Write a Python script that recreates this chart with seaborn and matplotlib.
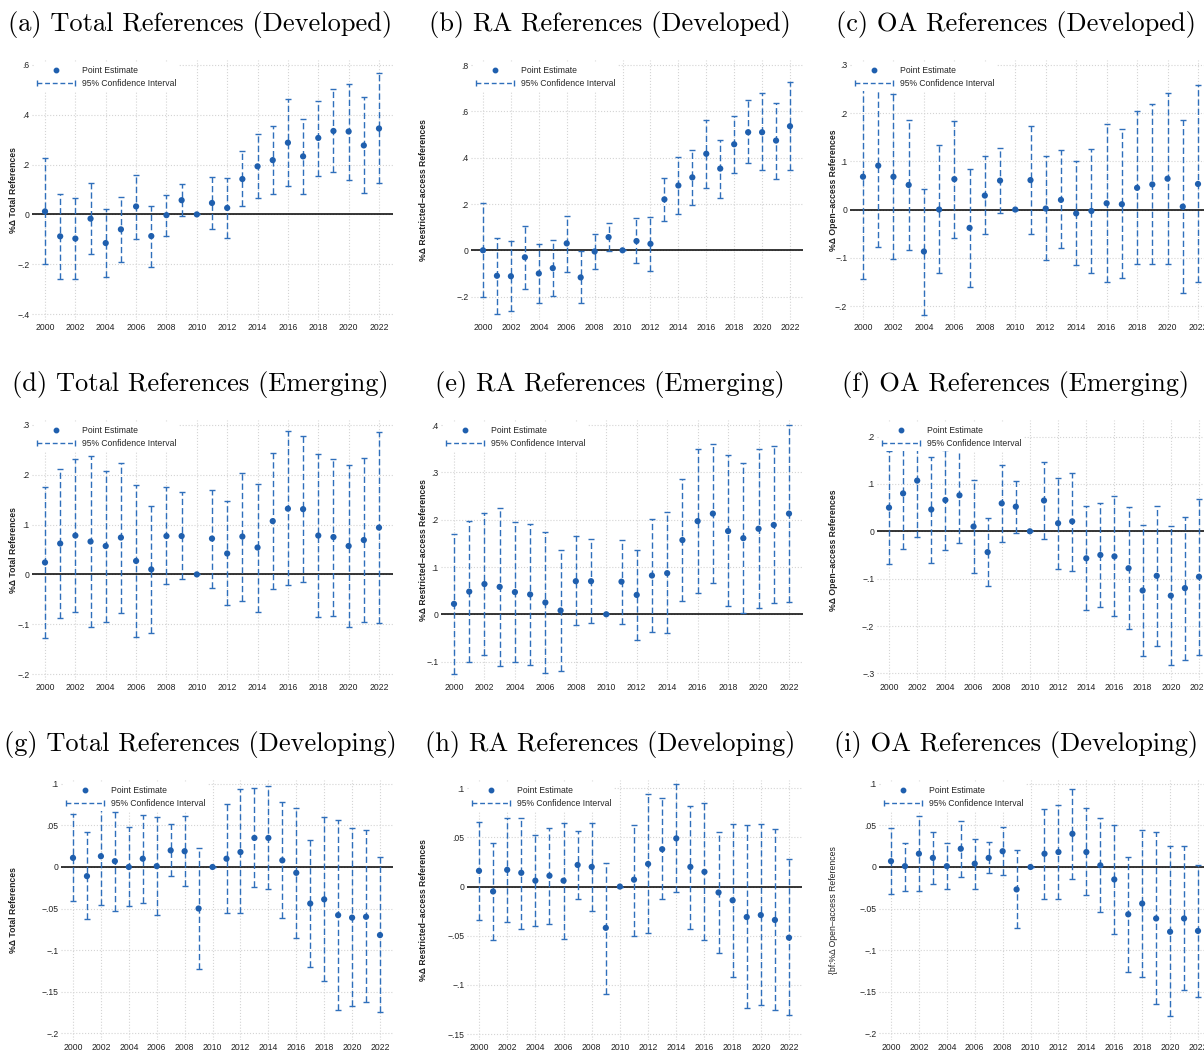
import numpy as np
import pandas as pd
import matplotlib
matplotlib.use("Agg")
import matplotlib.pyplot as plt
import seaborn as sns
from matplotlib.lines import Line2D
from matplotlib.legend_handler import HandlerLine2D

years = list(range(2000, 2023))

# (a) total references, developed
tot_dev_est = [.012, -.088, -.097, -.017, -.115, -.06, .032, -.087, -.003, .057, 0, .046, .026,
               .142, .193, .218, .288, .233, .307, .335, .333, .277, .345]
tot_dev_hi = [.225, .083, .065, .125, .022, .07, .16, .033, .078, .123, 0, .152, .146,
              .253, .322, .355, .465, .385, .457, .502, .525, .47, .567]
tot_dev_lo = [-.2, -.258, -.258, -.158, -.25, -.19, -.097, -.21, -.085, -.008, 0, -.058, -.093,
              .032, .065, .08, .113, .08, .155, .17, .14, .085, .125]

# (b) restricted-access references, developed
ra_dev_est = [0, -.11, -.112, -.03, -.1, -.077, .03, -.117, -.005, .057, 0, .04, .028,
              .22, .28, .315, .417, .353, .458, .51, .51, .474, .536]
ra_dev_hi = [.205, .055, .04, .105, .028, .045, .15, -.003, .07, .12, 0, .138, .145,
             .313, .403, .435, .565, .478, .578, .65, .678, .636, .727]
ra_dev_lo = [-.2, -.275, -.262, -.165, -.228, -.198, -.092, -.228, -.08, -.003, 0, -.055, -.088,
             .125, .155, .195, .267, .227, .335, .375, .345, .31, .347]

# (c) open-access references, developed
oa_dev_est = [.068, .091, .068, .051, -.087, 0, .063, -.038, .029, .06, 0, .061, .002,
              .02, -.008, -.003, .013, .011, .045, .052, .064, .006, .053]
oa_dev_hi = [.281, .259, .239, .186, .043, .134, .184, .085, .11, .127, 0, .173, .11,
             .123, .1, .126, .177, .166, .204, .218, .242, .186, .258]
oa_dev_lo = [-.145, -.077, -.102, -.083, -.218, -.132, -.058, -.16, -.05, -.007, 0, -.051, -.104,
             -.08, -.115, -.132, -.15, -.142, -.112, -.113, -.113, -.173, -.151]

# (d) total references, emerging
tot_emg_est = [.024, .062, .078, .066, .057, .074, .027, .01, .077, .077, 0, .072, .042,
               .076, .054, .107, .132, .131, .078, .075, .057, .069, .094]
tot_emg_hi = [.175, .212, .231, .237, .208, .223, .18, .138, .175, .165, 0, .17, .147,
              .204, .182, .244, .287, .278, .242, .232, .22, .233, .286]
tot_emg_lo = [-.127, -.088, -.075, -.106, -.095, -.077, -.126, -.117, -.02, -.01, 0, -.027, -.062,
              -.053, -.075, -.03, -.022, -.015, -.085, -.083, -.105, -.095, -.097]

# (e) restricted-access references, emerging
ra_emg_est = [.022, .048, .064, .058, .047, .042, .025, .008, .07, .07, 0, .069, .041,
              .082, .087, .157, .197, .213, .176, .161, .181, .189, .213]
ra_emg_hi = [.169, .197, .215, .225, .196, .191, .175, .136, .165, .16, 0, .158, .136,
             .202, .216, .287, .35, .36, .336, .32, .35, .357, .401]
ra_emg_lo = [-.126, -.101, -.087, -.11, -.1, -.107, -.125, -.12, -.023, -.019, 0, -.02, -.054,
             -.038, -.04, .028, .044, .066, .017, .003, .013, .023, .025]

# (f) open-access references, emerging
oa_emg_est = [.05, .08, .107, .046, .066, .076, .01, -.044, .059, .052, 0, .065, .017,
              .021, -.057, -.05, -.053, -.078, -.125, -.094, -.136, -.12, -.096]
oa_emg_hi = [.169, .198, .226, .157, .171, .176, .109, .028, .14, .107, 0, .146, .113,
             .124, .053, .059, .074, .052, .013, .054, .011, .031, .068]
oa_emg_lo = [-.069, -.038, -.012, -.066, -.039, -.024, -.088, -.115, -.022, -.003, 0, -.016, -.079,
             -.083, -.167, -.159, -.178, -.206, -.264, -.243, -.282, -.272, -.261]

# (g) total references, developing
tot_dvg_est = [.011, -.011, .013, .007, 0, .01, .001, .02, .019, -.05, 0, .01, .018,
               .035, .035, .008, -.007, -.044, -.039, -.058, -.061, -.06, -.082]
tot_dvg_hi = [.064, .042, .072, .066, .048, .063, .06, .052, .061, .023, 0, .076, .094,
              .095, .098, .078, .071, .032, .06, .057, .047, .044, .012]
tot_dvg_lo = [-.041, -.063, -.046, -.053, -.047, -.043, -.058, -.011, -.023, -.123, 0, -.056, -.056,
              -.024, -.027, -.062, -.086, -.121, -.137, -.172, -.168, -.163, -.175]

# (h) restricted-access references, developing
ra_dvg_est = [.016, -.005, .017, .014, .006, .011, .006, .022, .02, -.042, 0, .007, .023,
              .038, .049, .02, .015, -.006, -.014, -.031, -.029, -.034, -.052]
ra_dvg_hi = [.066, .044, .07, .07, .052, .06, .065, .057, .065, .024, 0, .063, .094,
             .09, .104, .082, .085, .055, .064, .063, .064, .059, .028]
ra_dvg_lo = [-.034, -.054, -.036, -.043, -.04, -.038, -.053, -.013, -.025, -.109, 0, -.05, -.047,
             -.013, -.006, -.043, -.054, -.068, -.092, -.124, -.12, -.126, -.131]

# (i) open-access references, developing
oa_dvg_est = [.007, .001, .016, .011, .001, .022, .004, .011, .019, -.027, 0, .016, .018,
              .04, .018, .002, -.015, -.057, -.044, -.062, -.078, -.062, -.077]
oa_dvg_hi = [.047, .029, .061, .042, .029, .056, .034, .03, .048, .02, 0, .07, .075,
             .094, .071, .059, .05, .012, .045, .042, .025, .025, .003]
oa_dvg_lo = [-.033, -.029, -.029, -.02, -.027, -.012, -.026, -.007, -.01, -.073, 0, -.038, -.038,
             -.014, -.034, -.054, -.081, -.126, -.132, -.165, -.179, -.148, -.156]

titles = ["(a) Total References (Developed)", "(b) RA References (Developed)", "(c) OA References (Developed)",
          "(d) Total References (Emerging)", "(e) RA References (Emerging)", "(f) OA References (Emerging)",
          "(g) Total References (Developing)", "(h) RA References (Developing)", "(i) OA References (Developing)"]
ylabels = ["%Δ Total References", "%Δ Restricted–access References", "%Δ Open–access References"] * 2 + \
          ["%Δ Total References", "%Δ Restricted–access References", "{bf:%Δ Open–access References"]
yticks = [[-.4, -.2, 0, .2, .4, .6], [-.2, 0, .2, .4, .6, .8], [-.2, -.1, 0, .1, .2, .3],
          [-.2, -.1, 0, .1, .2, .3], [-.1, 0, .1, .2, .3, .4], [-.3, -.2, -.1, 0, .1, .2],
          [-.2, -.15, -.1, -.05, 0, .05, .1], [-.15, -.1, -.05, 0, .05, .1], [-.2, -.15, -.1, -.05, 0, .05, .1]]

series = [(tot_dev_est, tot_dev_lo, tot_dev_hi), (ra_dev_est, ra_dev_lo, ra_dev_hi), (oa_dev_est, oa_dev_lo, oa_dev_hi),
          (tot_emg_est, tot_emg_lo, tot_emg_hi), (ra_emg_est, ra_emg_lo, ra_emg_hi), (oa_emg_est, oa_emg_lo, oa_emg_hi),
          (tot_dvg_est, tot_dvg_lo, tot_dvg_hi), (ra_dvg_est, ra_dvg_lo, ra_dvg_hi), (oa_dvg_est, oa_dvg_lo, oa_dvg_hi)]

# layout (pixels): x of 2000 / 2022 per panel, y limits per panel
x2000 = [45, 483, 863, 45, 454, 889, 73, 479, 891]
x2022 = [379, 790, 1198, 379, 789, 1199, 380, 789, 1198]
ylims = [(-.424, .62), (-.301, .822), (-.229, .31), (-.212, .31), (-.139, .411), (-.314, .235),
         (-.2084, .1048), (-.1561, .1084), (-.2084, .1048)]
row_top = [60, 420, 780]
col_left = [0, 410, 820]
col_center = [200, 610, 1016]
title_y = [25, 385, 745]

W, H = 1204, 1051
pt_color = "#1f5fae"
ci_color = "#2f6fbb"

sns.set_theme(style="white")
plt.rcParams["font.family"] = ["Liberation Sans", "DejaVu Sans"]
plt.rcParams["axes.unicode_minus"] = True


def fmt(v):
    if v == 0:
        return "0"
    s = f"{v:g}".replace("0.", ".")
    return s.replace("-", "\u2212")


fig = plt.figure(figsize=(W / 100, H / 100), dpi=100)

for i in range(9):
    r, c = divmod(i, 3)
    s = (x2022[i] - x2000[i]) / 22
    lpx = x2000[i] - 0.85 * s
    rpx = x2022[i] + 0.95 * s
    top = row_top[r]
    ax = fig.add_axes([lpx / W, (H - top - 260) / H, (rpx - lpx) / W, 260 / H])

    est, lo, hi = [np.array(v) for v in series[i]]
    df = pd.DataFrame({"year": years, "est": est, "lo": lo, "hi": hi})

    ax.axhline(0, color="black", lw=1.1, zorder=2)
    eb = ax.errorbar(df["year"], df["est"], yerr=[df["est"] - df["lo"], df["hi"] - df["est"]],
                     fmt="none", ecolor=ci_color, elinewidth=1.0, capsize=2.2, capthick=1.0, zorder=3)
    eb[2][0].set_linestyle((0, (4.5, 2.2)))
    sns.scatterplot(data=df, x="year", y="est", ax=ax, color=pt_color, s=20, edgecolor="none",
                    zorder=4, legend=False)

    ax.set_xlim(1999.15, 2022.95)
    ax.set_ylim(*ylims[i])
    ax.set_xticks(range(2000, 2023, 2))
    ax.set_xticklabels([str(y) for y in range(2000, 2023, 2)], fontsize=6.2, color="#222222")
    ax.set_yticks(yticks[i])
    ax.set_yticklabels([fmt(v) for v in yticks[i]], fontsize=6.2, color="#222222")
    ax.tick_params(length=0, pad=2)
    ax.grid(True, color="#d4d4d4", linestyle=":", lw=0.8)
    ax.set_xlabel("")
    ax.set_ylabel("")
    for sp in ax.spines.values():
        sp.set_visible(False)

    h_pt = Line2D([], [], marker="o", color=pt_color, linestyle="none", markersize=3.2)
    h_ci = Line2D([], [], color=ci_color, linestyle=(0, (3.5, 2)), lw=1.0, marker="|", markersize=5)
    leg = ax.legend([h_pt, h_ci], ["Point Estimate", "95% Confidence Interval"], loc="upper left",
                    bbox_to_anchor=(0, 0.995), fontsize=6.2, frameon=True, framealpha=1, facecolor="white",
                    edgecolor="none", borderpad=0.35, borderaxespad=0.2, labelspacing=0.5,
                    handlelength=4.4, handletextpad=0.8, fancybox=False,
                    handler_map={h_ci: HandlerLine2D(numpoints=2, marker_pad=0)})
    leg.set_zorder(5)

    fig.text((col_left[c] + 14) / W, 1 - (top + 130) / H, ylabels[i], rotation=90, ha="center", va="center",
             fontsize=6.2, fontweight="normal" if i == 8 else "bold", color="#222222")
    fig.text(col_center[c] / W, 1 - title_y[r] / H, titles[i], family="cmr10", fontsize=19,
             ha="center", va="center", color="black")

fig.savefig("out.png", dpi=100)
